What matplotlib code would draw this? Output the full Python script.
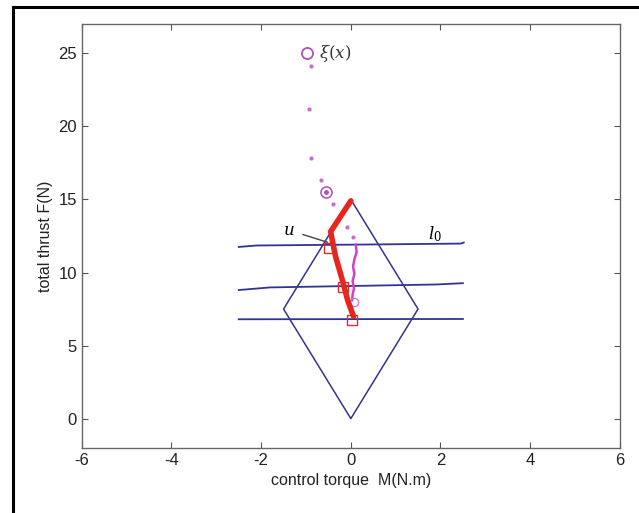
import matplotlib.pyplot as plt
from matplotlib.lines import Line2D

plt.rcParams['axes.unicode_minus'] = False
plt.rcParams['font.family'] = ['Liberation Sans Narrow', 'Liberation Sans', 'DejaVu Sans']

# feasible region (diamond) for control torque / thrust
diamond_x = [0, 1.5, 0, -1.5, 0]
diamond_y = [15, 7.5, 0, 7.5, 15]

# constraint lines l0 (blue, slightly uneven)
line1_x = [-2.5, -2.1, 0.5, 2.45, 2.52]
line1_y = [11.75, 11.85, 11.92, 11.98, 12.05]
line2_x = [-2.5, -1.8, 1.9, 2.5]
line2_y = [8.8, 8.98, 9.18, 9.27]
line3_x = [-2.5, 2.5]
line3_y = [6.8, 6.82]

# reference trajectory xi(x)
xi_dots_x = [-0.88, -0.94, -0.89, -0.66, -0.40, -0.09, 0.04]
xi_dots_y = [24.1, 21.2, 17.85, 16.3, 14.7, 13.1, 12.4]
xi_circle = (-0.98, 25.0)
xi_target = (-0.55, 15.5)

# magenta wiggle
mag_x = [0.11, 0.13, 0.08, 0.05, 0.08, 0.04, 0.07, 0.04, 0.03]
mag_y = [11.9, 11.4, 10.9, 10.4, 9.9, 9.4, 8.9, 8.5, 8.1]
mag_end = (0.07, 7.95)

# control u (red thick)
u_x = [0.0, -0.45, -0.40, -0.34, -0.19, -0.07, 0.06]
u_y = [14.9, 12.8, 12.0, 11.1, 9.5, 8.1, 7.0]
sq_x = [-0.49, -0.17, 0.02]
sq_y = [11.65, 9.0, 6.76]

fig = plt.figure(figsize=(6.39, 5.13), dpi=100)
ax = fig.add_axes([0.128, 0.127, 0.842, 0.826])

blue = '#34348f'
ax.plot(diamond_x, diamond_y, color=blue, lw=1.1)
ax.plot(line1_x, line1_y, color=blue, lw=1.3)
ax.plot(line2_x, line2_y, color=blue, lw=1.3)
ax.plot(line3_x, line3_y, color=blue, lw=1.3)

ax.plot(xi_dots_x, xi_dots_y, 'o', color='#c070c8', ms=3, mec='none')
ax.plot(*xi_circle, 'o', mfc='none', mec='#b050b8', ms=8, mew=1.3)
ax.plot(*xi_target, 'o', mfc='none', mec='#b050b8', ms=8, mew=1.1)
ax.plot(*xi_target, 'o', color='#b050b8', ms=2.5)

ax.plot(mag_x, mag_y, color='#d040d0', lw=1.8)
ax.plot(*mag_end, 'o', mfc='none', mec='#c080d0', ms=6, mew=1.0)

ax.plot(u_x, u_y, color='#e8241c', lw=4.0, solid_capstyle='round')
ax.plot(sq_x, sq_y, 's', mfc='none', mec='#d03030', ms=7, mew=1.0)

ax.annotate('$u$', xy=(-0.52, 12.07), xytext=(-1.38, 12.9), fontsize=12,
            ha='center', va='center', math_fontfamily='dejavuserif',
            arrowprops=dict(arrowstyle='-', color='#444444', lw=1.0,
                            shrinkA=4, shrinkB=0))
ax.text(1.87, 12.6, '$l_0$', fontsize=12, ha='center', va='center',
        math_fontfamily='dejavuserif')
ax.text(-0.72, 25.0, r'$\xi(x)$', fontsize=12, ha='left', va='center',
        math_fontfamily='dejavuserif', color='#333333')

ax.set_xlim(-6, 6)
ax.set_ylim(-2, 27)
ax.set_xticks(range(-6, 7, 2))
ax.set_yticks(range(0, 26, 5))
ax.tick_params(direction='in', top=True, right=True, length=4,
               color='#555555', labelsize=12, labelcolor='#222222')
for s in ax.spines.values():
    s.set_color('#666666')
    s.set_linewidth(1.0)
ax.set_xlabel('control torque  M(N.m)', fontsize=11.5, color='#222222')
ax.set_ylabel('total thrust F(N)', fontsize=11.5, color='#222222')

# black frame (top and left edges of scanned figure)
fig.add_artist(Line2D([0.021, 1.0], [0.986, 0.986], color='black', lw=2.2,
                      transform=fig.transFigure))
fig.add_artist(Line2D([0.021, 0.021], [0.0, 0.986], color='black', lw=2.2,
                      transform=fig.transFigure))

fig.savefig('out.png', dpi=100)
